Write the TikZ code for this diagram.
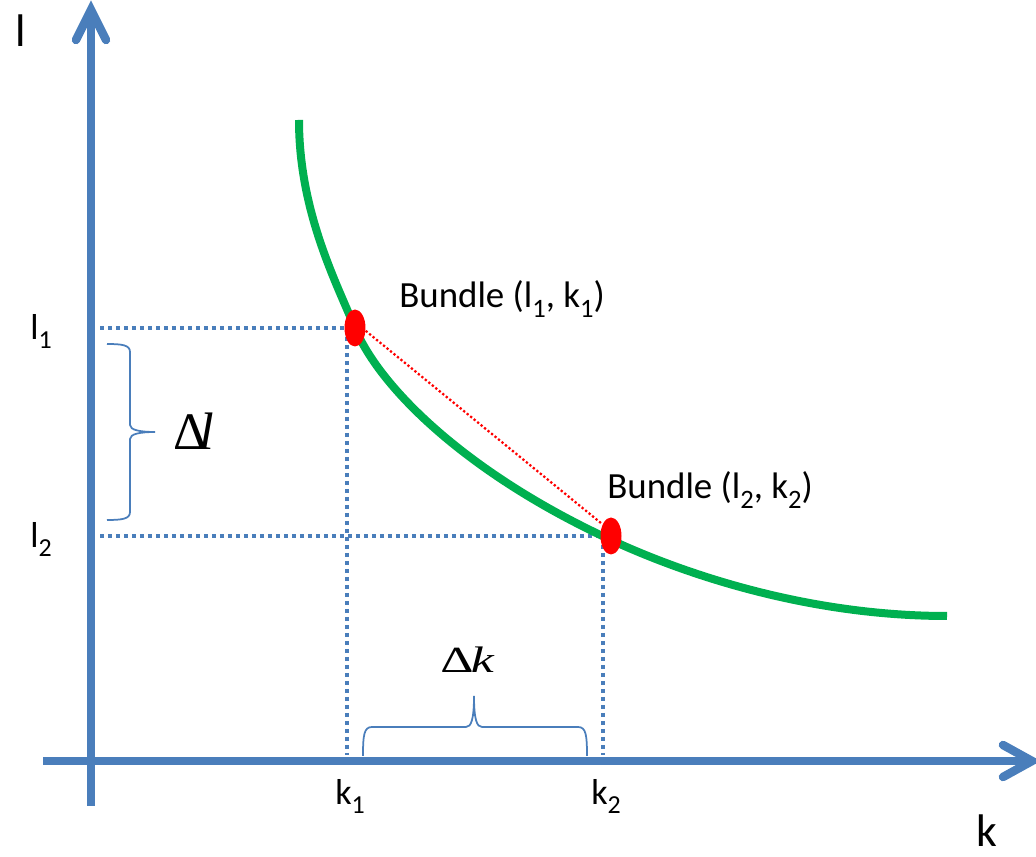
\documentclass[tikz,border=0pt]{standalone}
\usepackage{fontspec}
\usepackage{graphicx}
\setmainfont{Carlito}
\newfontfamily\tms{Liberation Serif}
\usetikzlibrary{shapes.geometric}
\definecolor{axblue}{RGB}{74,126,187}
\definecolor{curvegreen}{RGB}{0,176,80}
\newcommand\sbs[1]{\raisebox{-0.25em}{\scalebox{0.72}{#1}}}
\tikzset{
  axisline/.style={draw=axblue, line width=0.17cm},
  axishead/.style={draw=axblue, line width=0.17cm, line cap=round, line join=miter},
  guide/.style={draw=axblue, line width=0.08cm, dash pattern=on 0.08cm off 0.08cm},
  chord/.style={draw=red, line width=0.045cm, dash pattern=on 0.045cm off 0.045cm},
  bracepath/.style={draw=axblue, line width=0.035cm},
  bundlept/.style={ellipse, fill=red, draw=none, inner sep=0pt, minimum width=0.42cm, minimum height=0.74cm},
  axlbl/.style={inner sep=0pt, font=\fontsize{26}{30}\selectfont},
  ticklbl/.style={inner sep=0pt, font=\fontsize{20.5}{24}\selectfont},
  ptlbl/.style={inner sep=0pt, font=\fontsize{21}{25}\selectfont},
}
\begin{document}
\begin{tikzpicture}[x=0.02cm, y=-0.02cm]
\path[use as bounding box] (0,0) rectangle (1036,857);

% guides
\draw[guide] (100,328) -- (347,328) -- (347,755);
\draw[guide] (100,536) -- (603,536) -- (603,755);

% axes
\coordinate (ybot) at (91,806);
\coordinate (ytop) at (91,12);
\coordinate (xleft) at (43,761);
\coordinate (xright) at (1030,761);
\draw[axisline] (ybot) -- (ytop);
\draw[axishead] (76,40) -- (91,10) -- (106,40);
\draw[axisline] (xleft) -- (xright);
\draw[axishead] (1003,745) -- (1032,761) -- (1003,777);

% curve
\draw[curvegreen, line width=0.16cm]
  (299,120) .. controls (299,210) and (335,280) .. (355,328)
  .. controls (381,390) and (470,475) .. (611,540)
  .. controls (700,581) and (820,616) .. (947,616);

% bundle points
\node[bundlept] (e1) at (355,328) {};
\node[bundlept] (e2) at (611,536) {};
\draw[chord] (e1.-15) -- (e2.126);

% labels
\node[axlbl, anchor=base west] (ylab) at (15,47) {l};
\node[axlbl, anchor=base west] (xlab) at (976,847) {k};
\node[ticklbl, anchor=base west] (l1) at (30,340) {l\sbs{1}};
\node[ticklbl, anchor=base west] (l2) at (30,548) {l\sbs{2}};
\node[ticklbl, anchor=base west] (k1) at (335,805) {k\sbs{1}};
\node[ticklbl, anchor=base west] (k2) at (591,805) {k\sbs{2}};
\node[ptlbl, anchor=base west] (b1) at (399,308) {Bundle (l\sbs{1}, k\sbs{1})};
\node[ptlbl, anchor=base west] (b2) at (607,499) {Bundle (l\sbs{2}, k\sbs{2})};

% braces
\draw[bracepath] (107,344) .. controls (122,344) and (130,345) .. (130,352) -- (130,425)
  .. controls (130,430) and (140,432) .. (155,432)
  .. controls (140,432) and (130,434) .. (130,439) -- (130,512)
  .. controls (130,519) and (122,520) .. (107,520);
\draw[bracepath] (363,756) .. controls (363,735) and (364,727) .. (372,727) -- (466,727)
  .. controls (471,727) and (474,720) .. (474,696)
  .. controls (474,720) and (477,727) .. (482,727) -- (578,727)
  .. controls (586,727) and (587,735) .. (587,756);
\node[inner sep=0pt, anchor=base west] (dl) at (173,450) {\fontsize{30}{30}\selectfont\tms Δ\kern-0.15em\textit{l}};
\node[inner sep=0pt, anchor=base west] (dk) at (440,673) {\fontsize{21}{21}\selectfont\tms\scalebox{1.4}[1]{Δ\kern-0.05em\textit{k}}};
\end{tikzpicture}
\end{document}
